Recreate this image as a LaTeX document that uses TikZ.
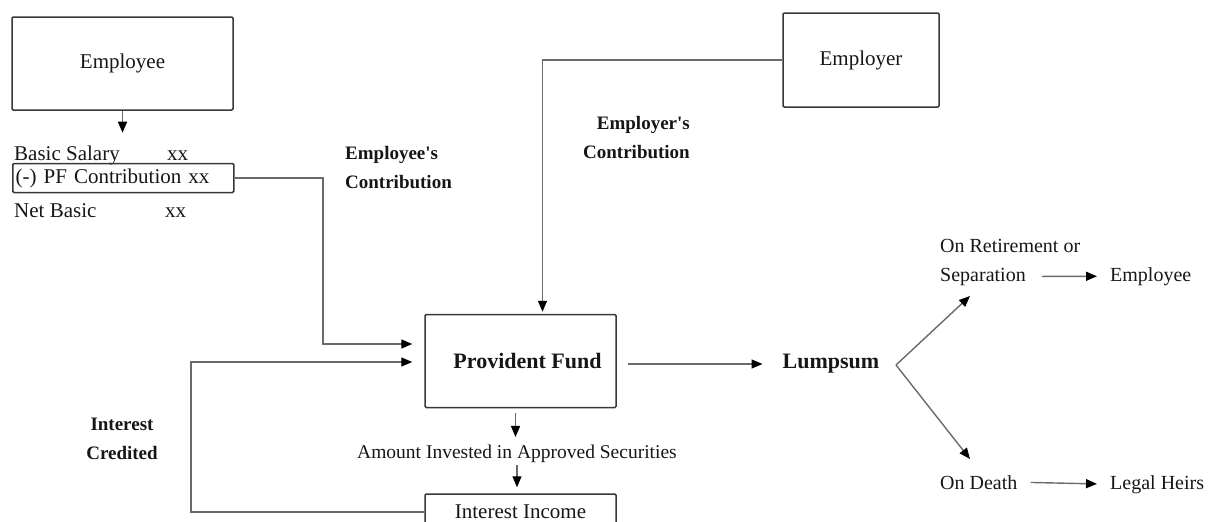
\documentclass[tikz,border=0pt]{standalone}
\usepackage{fontspec}
\setmainfont{Liberation Serif}
\usetikzlibrary{arrows.meta}
\definecolor{boxline}{HTML}{383838}
\definecolor{wire}{HTML}{6A6A6A}
\definecolor{ink}{HTML}{161616}
\begin{document}
\begin{tikzpicture}[x=1pt,y=-1pt,
  every node/.style={text=ink},
  box/.style={draw=boxline, line width=1.5pt, rounded corners=1.2pt, inner sep=0pt,
    font=\fontsize{21}{24}\selectfont},
  txt/.style={inner sep=0pt, anchor=base west, font=\fontsize{21}{24}\selectfont},
  rtxt/.style={inner sep=0pt, anchor=base west, font=\fontsize{20}{24}\selectfont},
  blbl/.style={inner sep=0pt, font=\bfseries\fontsize{19}{29}\selectfont},
  conn/.style={draw=wire, line width=1.4pt},
  arr/.style={conn, -{Triangle[length=11pt,width=9pt,color=black]}}]
\useasboundingbox (0,0) rectangle (1218,522);
\clip (0,0) rectangle (1218,522);

% --- employee side
\node[box, minimum width=221pt, minimum height=93pt] (ee) at (122.5,63.5) {Employee};
\node[txt] (bs) at (14,160) {Basic Salary};
\node[txt] (bsx) at (167,160) {xx};
\node[box, anchor=west, text width=215pt, align=left, inner xsep=3pt,
      minimum height=29pt] (pfc) at (12,178) {(-) PF Contribution xx};
\node[txt] (nb) at (14,217) {Net Basic};
\node[txt] (nbx) at (165,217) {xx};
\node[blbl, align=left, anchor=west] (eec) at (345,167.5)
  {Employee\textquotesingle s\\Contribution};

% --- employer side
\node[box, minimum width=156pt, minimum height=94pt] (er) at (861,60) {Employer};
\node[blbl, align=right, anchor=east] (erc) at (690,138)
  {Employer\textquotesingle s\\Contribution};

% --- fund
\node[box, minimum width=191pt, minimum height=93pt,
      font=\bfseries\fontsize{22}{24}\selectfont] (pf) at (520.5,361) {\hspace{14pt}Provident Fund};
\node[inner sep=0pt, font=\fontsize{19.5}{24}\selectfont] (amt) at (517,454)
  {Amount Invested in Approved Securities};
\node[box, minimum width=191pt, minimum height=36pt] (ii) at (520.5,512) {Interest Income};
\node[blbl, align=center] (ic) at (122,439) {Interest\\Credited};

% --- payout
\node[inner sep=0pt, font=\bfseries\fontsize{22}{24}\selectfont] (lump) at (831,364) {Lumpsum};
\node[rtxt] (ret) at (940,252) {On Retirement or};
\node[rtxt] (sep) at (940,281) {Separation};
\node[rtxt] (emp) at (1110,281) {Employee};
\node[rtxt] (dth) at (940,489) {On Death};
\node[rtxt] (heir) at (1110,489) {Legal Heirs};

\coordinate (j1) at (323,344);
\coordinate (j2) at (191,362);
\coordinate (br) at (896,365);
\coordinate (up) at (970,296);
\coordinate (dn) at (970,459);

% --- connectors
\draw[arr, shorten >=12.5pt] (ee.south) -- (ee.south |- bs.north);
\draw[arr, shorten >=12pt] (pfc.east) -| (j1) -- (pf.west |- j1);
\draw[arr, shorten >=2pt] (er.west) -| ([xshift=22pt]pf.north);
\draw[arr, shorten >=12pt] (ii.west) -| (j2) -- (pf.west |- j2);
\draw[arr, shorten <=5pt, shorten >=8pt] ([xshift=-5pt]pf.south) -- ([xshift=-5pt]pf.south |- amt.north);
\draw[arr, shorten <=2pt, shorten >=6pt] (amt.south) -- (amt.south |- ii.north);
\draw[arr, shorten <=11pt, shorten >=20pt] (pf.east |- lump.west) -- (lump.west);
\draw[arr] (br) -- (up);
\draw[arr] (br) -- (dn);
\draw[arr, shorten <=16pt, shorten >=13pt] (sep.east) -- (emp.west);
\draw[arr, shorten <=13pt, shorten >=13pt] (dth.east) -- (heir.west);
\end{tikzpicture}
\end{document}
